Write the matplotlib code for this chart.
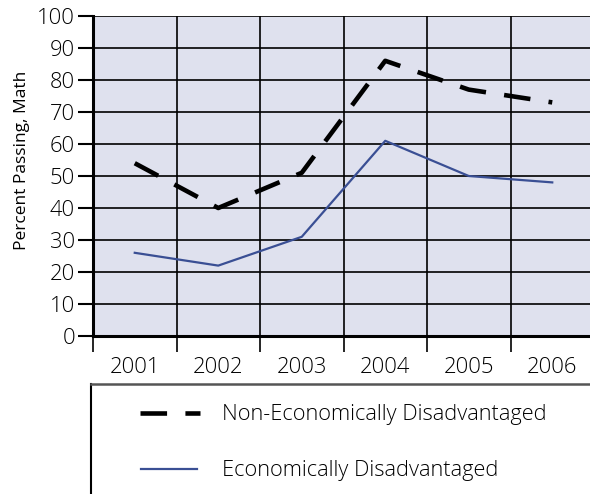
import matplotlib
matplotlib.use("Agg")
import matplotlib.pyplot as plt
from matplotlib.lines import Line2D
import numpy as np

years = ["2001", "2002", "2003", "2004", "2005", "2006"]
non_econ = [54, 40, 51, 86, 77, 73]
econ = [26, 22, 31, 61, 50, 48]
series_labels = ["Non-Economically Disadvantaged", "Economically Disadvantaged"]
yticks = list(range(0, 101, 10))

plt.rcParams['font.family'] = ['Open Sans', 'DejaVu Sans']
plt.rcParams['font.weight'] = 'light'

W, H = 590, 494
fig = plt.figure(figsize=(W / 100, H / 100), dpi=100)

x0, ytop, ybot = 93, 16, 336
step = 83.5
ax = fig.add_axes([x0 / W, (H - ybot) / H, 6 * step / W, (ybot - ytop) / H])
ax.set_facecolor("#dfe1ee")

xs = np.arange(len(years)) + 0.5
ax.plot(xs, non_econ, color="black", lw=3.3, dashes=(5.8, 4.0),
        solid_capstyle="butt", dash_capstyle="butt", zorder=3)
ax.plot(xs, econ, color="#3a4f94", lw=1.6, zorder=3)

ax.set_xlim(0, 6)
ax.set_ylim(0, 100)
ax.set_yticks(yticks)
ax.set_yticklabels([str(v) for v in yticks], fontsize=15.8)
ax.set_xticks(np.arange(0, 7))
ax.set_xticklabels([])
ax.set_xticks(xs, minor=True)
ax.set_xticklabels(years, minor=True, fontsize=15.8)
ax.tick_params(axis='x', which='major', direction='out', length=11.5, width=1.2, color='black')
ax.tick_params(axis='x', which='minor', length=0, pad=15)
ax.tick_params(axis='y', which='major', direction='out', length=11, width=1.5, pad=2)
ax.grid(True, which='major', color='black', lw=1.2, zorder=1)
ax.set_axisbelow(True)
for s in ['top', 'right']:
    ax.spines[s].set_visible(False)
ax.spines['left'].set_linewidth(2.2)
ax.spines['bottom'].set_linewidth(2.2)
ax.set_ylabel("Percent Passing, Math", fontsize=12.5, labelpad=4)
ax.yaxis.set_label_coords(-0.125, 0.55)

# legend box
lx, ltop = 91, 384
lax = fig.add_axes([lx / W, 0, 1.2, (H - ltop) / H])
lax.set_xlim(0, 1.2 * W)
lax.set_ylim(H, ltop)
lax.set_xticks([])
lax.set_yticks([])
lax.patch.set_visible(False)
lax.spines['right'].set_visible(False)
lax.spines['bottom'].set_visible(False)
lax.spines['top'].set_color('#555555')
lax.spines['top'].set_linewidth(1.8)
lax.spines['left'].set_linewidth(1.5)
lax.add_line(Line2D([140 - lx, 200 - lx], [413, 413], color='black', lw=3.3,
                    dashes=(5.8, 4.0), dash_capstyle='butt'))
lax.add_line(Line2D([141 - lx, 197 - lx], [469, 469], color='#3a4f94', lw=1.6))
lax.text(222 - lx, 414, series_labels[0], fontsize=15.7, va='center', ha='left')
lax.text(222 - lx, 470, series_labels[1], fontsize=15.7, va='center', ha='left')

fig.savefig("out.png", dpi=100)
